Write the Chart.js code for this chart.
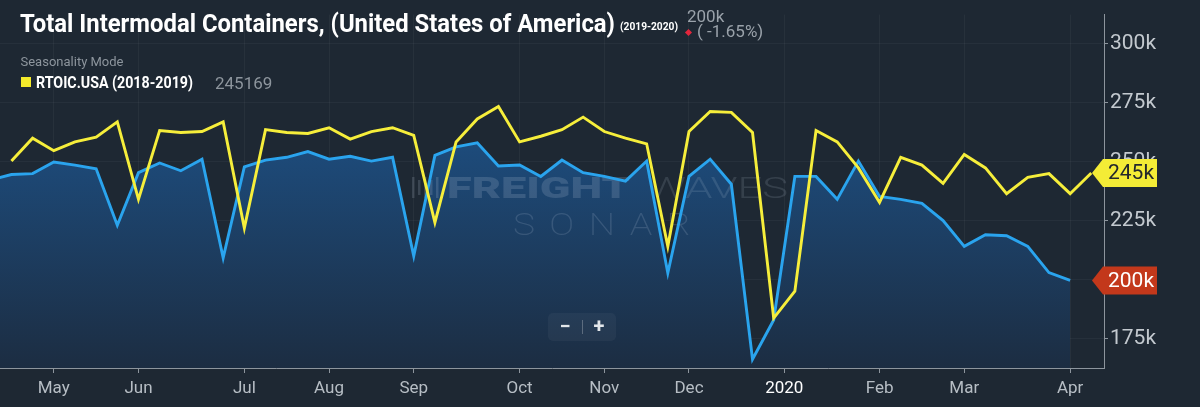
<!DOCTYPE html>
<html>
<head>
<meta charset="utf-8">
<script src="https://cdn.jsdelivr.net/npm/chart.js@4"></script>
<style>
  html, body { margin: 0; padding: 0; background: #1e2833; }
  #wrap { position: relative; width: 1200px; height: 407px; overflow: hidden; font-family: Roboto, 'Noto Sans', sans-serif; }
  #wrap canvas { position: absolute; left: 0; top: 0; }
  .txt { position: absolute; white-space: nowrap; transform-origin: 0 0; line-height: normal; }
  #zoomBox { position: absolute; left: 548px; top: 313px; width: 68px; height: 28px; border-radius: 5px;
    background: rgba(255,255,255,0.045); color: #e2e6ea; font-weight: 700; font-size: 20px; }
  #zoomBox span { position: absolute; top: 1px; width: 34px; text-align: center; }
  #zoomBox i { position: absolute; left: 34px; top: 7px; width: 1px; height: 14px; background: rgba(255,255,255,0.25); }
</style>
</head>
<body>
<div id="wrap">
  <canvas id="chart" width="1200" height="407"></canvas>
  <div class="txt" id="title" data-w="595" style="left:20px;top:7.2px;font-size:26.5px;font-weight:700;color:#ffffff;">Total Intermodal Containers, (United States of America)</div>
  <div class="txt" id="sub" data-w="58" style="left:620px;top:20px;font-size:11px;font-weight:700;color:#ffffff;">(2019-2020)</div>
  <div class="txt" id="lastVal" style="left:687px;top:5.9px;font-size:17px;color:#9aa2aa;"></div>
  <div style="position:absolute;left:686px;top:30px;width:5px;height:5px;background:#e3263c;transform:rotate(45deg);"></div>
  <div class="txt" id="change" style="left:697px;top:21.3px;font-size:17px;color:#9aa2aa;"></div>
  <div class="txt" style="left:20.5px;top:54.2px;font-size:13px;color:#8d959d;">Seasonality Mode</div>
  <div style="position:absolute;left:21px;top:77px;width:10px;height:10px;background:#f3ea2b;"></div>
  <div class="txt" id="legName" data-w="157" style="left:35.7px;top:73.2px;font-size:16px;font-weight:700;color:#ffffff;">RTOIC.USA (2018-2019)</div>
  <div class="txt" id="legVal" style="left:215px;top:73px;font-size:17px;color:#8d959d;"></div>
  <div id="zoomBox"><span style="left:0">&minus;</span><i></i><span style="left:34px">+</span></div>
</div>
<script>
// weekly values, seasonality mode (x = week slot on the shared axis)
const blueStart = -1;
const containers2019_2020 = [
  242100, 244500, 244900, 249800, 248500, 246900, 223000, 245300, 249400, 246100,
  251000, 209200, 247700, 250600, 251800, 254200, 251000, 252200, 250200, 251800,
  210000, 252600, 256200, 257900, 248100, 248500, 243700, 250600, 245300, 243700,
  241700, 250200, 202800, 243700, 251000, 240400, 166300, 182900, 243700, 243700,
  234000, 250200, 235200, 234000, 232300, 225000, 214100, 219000, 218600, 214100,
  203000, 199650
];

const yellowStart = 0;
const containers2018_2019 = [
  250200, 259900, 254600, 258300, 260300, 266800, 234000, 263100, 262300, 262700,
  266800, 221800, 263500, 262300, 261900, 264300, 259500, 262700, 264300, 261100,
  224200, 258300, 268000, 273300, 258300, 260700, 263500, 268800, 262700, 259900,
  257500, 214100, 262700, 271200, 270800, 262300, 183700, 195100, 263100, 258300,
  247300, 232700, 251800, 248500, 240800, 253000, 247300, 236400, 243300, 244900,
  236400, 245169
];

const monthLabels = ['May', 'Jun', 'Jul', 'Aug', 'Sep', 'Oct', 'Nov', 'Dec', '2020', 'Feb', 'Mar', 'Apr'];
const monthSlots = [2, 6, 11, 15, 19, 24, 28, 32, 36.5, 41, 45, 50];
const yTickValues = [175000, 200000, 225000, 250000, 275000, 300000];

const xMin = -0.54, xMax = 51.6;
const yMin = 162600, yMax = 312200;

function fmtK(v) {
  return Math.round(v / 1000) + 'k';
}

// header texts from the data
const lastBlue = containers2019_2020[containers2019_2020.length - 1];
const prevBlue = containers2019_2020[containers2019_2020.length - 2];
const lastYellow = containers2018_2019[containers2018_2019.length - 1];
document.getElementById('lastVal').textContent = fmtK(lastBlue);
document.getElementById('change').textContent = '( ' + ((lastBlue - prevBlue) / prevBlue * 100).toFixed(2) + '%)';
document.getElementById('legVal').textContent = lastYellow;

// condensed look: squeeze some bold texts to the width seen in the picture
document.querySelectorAll('[data-w]').forEach(function(el) {
  const w = el.getBoundingClientRect().width;
  el.style.transform = 'scaleX(' + (parseFloat(el.dataset.w) / w) + ')';
});

function toPoints(values, start) {
  return values.map((v, i) => ({ x: start + i, y: v }));
}

function fitText(ctx, text, x, y, width) {
  const w = ctx.measureText(text).width;
  ctx.save();
  ctx.translate(x, y);
  ctx.scale(width / w, 1);
  ctx.fillText(text, 0, 0);
  ctx.restore();
}

const watermark = {
  id: 'watermark',
  beforeDatasetsDraw(chart) {
    const ctx = chart.ctx;
    ctx.save();
    ctx.fillStyle = 'rgba(200,214,230,0.17)';
    ctx.textBaseline = 'alphabetic';
    // little bar logo
    for (let i = 0; i < 5; i++) {
      ctx.fillRect(412 + i * 6, 177 + (i % 2) * 3, 2.5, 21 - (i % 2) * 6);
    }
    ctx.font = '900 30px Roboto';
    fitText(ctx, 'FREIGHT', 447, 198, 183);
    ctx.font = '300 30px Roboto';
    ctx.fillStyle = 'rgba(200,214,230,0.14)';
    fitText(ctx, 'WAVES', 647, 198, 141);
    ctx.font = '200 31px Roboto';
    ctx.fillStyle = 'rgba(200,214,230,0.16)';
    ctx.letterSpacing = '12px';
    fitText(ctx, 'SONAR', 513, 235, 192);
    ctx.restore();
  }
};

function drawTag(ctx, area, y, fill, color, text) {
  const tip = area.right - 12, left = area.right - 1, right = area.right + 53, h = 14;
  ctx.beginPath();
  ctx.moveTo(tip, y);
  ctx.lineTo(left, y - h);
  ctx.lineTo(right, y - h);
  ctx.lineTo(right, y + h);
  ctx.lineTo(left, y + h);
  ctx.closePath();
  ctx.fillStyle = fill;
  ctx.fill();
  ctx.fillStyle = color;
  ctx.font = '21px Roboto';
  ctx.textBaseline = 'middle';
  ctx.textAlign = 'left';
  ctx.fillText(text, area.right + 4, y + 1);
}

const lastTags = {
  id: 'lastTags',
  afterDraw(chart) {
    const ctx = chart.ctx, area = chart.chartArea, ys = chart.scales.y;
    ctx.save();
    drawTag(ctx, area, ys.getPixelForValue(lastYellow), '#f4ec36', '#24282c', fmtK(lastYellow));
    drawTag(ctx, area, ys.getPixelForValue(lastBlue), '#c3381b', '#ffffff', fmtK(lastBlue));
    ctx.restore();
  }
};

new Chart(document.getElementById('chart'), {
  type: 'line',
  data: {
    datasets: [
      {
        label: 'RTOIC.USA (2018-2019)',
        data: toPoints(containers2018_2019, yellowStart),
        borderColor: '#f6ee3b',
        borderWidth: 2.9,
        pointRadius: 0,
        tension: 0,
        fill: false
      },
      {
        label: 'RTOIC.USA (2019-2020)',
        data: toPoints(containers2019_2020, blueStart),
        borderColor: '#2aa4ee',
        borderWidth: 2.9,
        pointRadius: 0,
        tension: 0,
        fill: 'start',
        backgroundColor: function(c) {
          const area = c.chart.chartArea;
          if (!area) return 'rgba(29,74,121,0.8)';
          const g = c.chart.ctx.createLinearGradient(0, area.top + 130, 0, area.bottom);
          g.addColorStop(0, '#1d4b7b');
          g.addColorStop(1, '#1c2d42');
          return g;
        }
      }
    ]
  },
  options: {
    responsive: false,
    animation: false,
    devicePixelRatio: 1,
    layout: { padding: 0 },
    plugins: {
      legend: { display: false },
      tooltip: { enabled: false },
      filler: { drawTime: 'beforeDatasetsDraw' }
    },
    scales: {
      x: {
        type: 'linear',
        min: xMin,
        max: xMax,
        afterBuildTicks: function(axis) {
          axis.ticks = monthSlots.map(v => ({ value: v }));
        },
        afterFit: function(axis) { axis.height = 39; },
        ticks: {
          autoSkip: false,
          maxRotation: 0,
          padding: 6,
          font: { family: 'Roboto', size: 17 },
          color: function(c) { return monthLabels[c.index] === '2020' ? '#ffffff' : '#b7bec5'; },
          callback: function(value, index) { return monthLabels[index]; }
        },
        grid: {
          color: 'rgba(255,255,255,0.045)',
          tickColor: '#8d959d',
          tickLength: 5
        },
        border: { color: '#8d959d', width: 1 }
      },
      y: {
        position: 'right',
        min: yMin,
        max: yMax,
        afterBuildTicks: function(axis) {
          axis.ticks = yTickValues.map(v => ({ value: v }));
        },
        afterFit: function(axis) { axis.width = 96; },
        ticks: {
          padding: 2,
          font: { family: 'Roboto', size: 21 },
          color: '#c3c9cf',
          callback: function(value) { return fmtK(value); }
        },
        grid: {
          color: 'rgba(255,255,255,0.04)',
          tickColor: '#8d959d',
          tickLength: 4
        },
        border: { color: '#8d959d', width: 1 }
      }
    }
  },
  plugins: [watermark, lastTags]
});
</script>
</body>
</html>
